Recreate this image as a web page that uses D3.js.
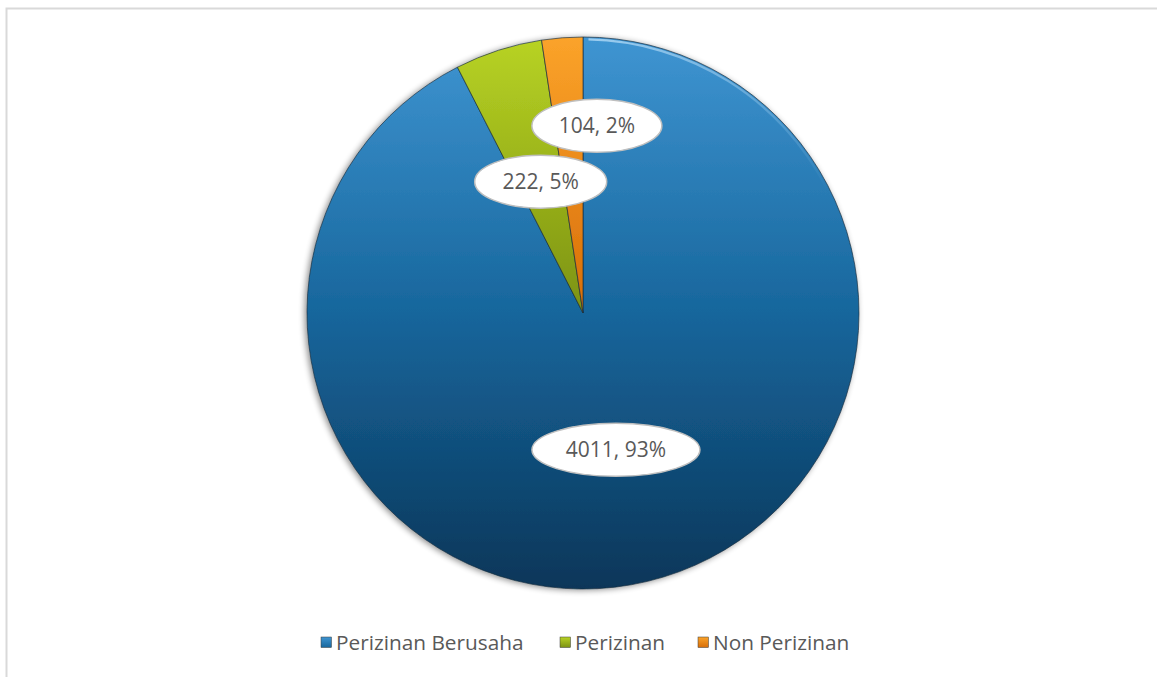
<!DOCTYPE html>
<html><head><meta charset="utf-8">
<script src="https://cdn.jsdelivr.net/npm/d3@7/dist/d3.min.js"></script>
<style>body{margin:0;background:#fff;}svg{display:block;}</style>
</head><body>
<svg id="chart" width="1157" height="677"></svg>
<script>
const categories = ["Perizinan Berusaha", "Perizinan", "Non Perizinan"];
const values = [4011, 222, 104];
const labels = ["4011, 93%", "222, 5%", "104, 2%"];

const W = 1157, H = 677;
const cx = 583, cy = 313, R = 276;
const svg = d3.select("#chart");
const defs = svg.append("defs");

const colorStops = [
  [["0%","#3f95d2"],["50%","#17669c"],["100%","#0a3659"]],
  [["0%","#b8d324"],["50%","#7c9212"],["100%","#4e5c06"]],
  [["0%","#fba32a"],["50%","#d86e08"],["100%","#a84a00"]]
];
colorStops.forEach((st,i)=>{
  const g = defs.append("linearGradient").attr("id","g"+i)
    .attr("gradientUnits","userSpaceOnUse")
    .attr("x1",0).attr("x2",0).attr("y1",-R).attr("y2",R);
  st.forEach(s=>g.append("stop").attr("offset",s[0]).attr("stop-color",s[1]));
  const lg = defs.append("linearGradient").attr("id","lg"+i)
    .attr("x1",0).attr("x2",0).attr("y1",0).attr("y2",1);
  lg.append("stop").attr("offset","0%").attr("stop-color",st[0][1]);
  lg.append("stop").attr("offset","100%").attr("stop-color",st[1][1]);
});
const hl = defs.append("linearGradient").attr("id","hl").attr("x1",0).attr("x2",1).attr("y1",0).attr("y2",1);
hl.append("stop").attr("offset","0%").attr("stop-color","#b5dcf7").attr("stop-opacity",0.8);
hl.append("stop").attr("offset","60%").attr("stop-color","#b5dcf7").attr("stop-opacity",0.3);
hl.append("stop").attr("offset","100%").attr("stop-color","#b5dcf7").attr("stop-opacity",0);

const f = defs.append("filter").attr("id","sh").attr("x","-10%").attr("y","-10%").attr("width","120%").attr("height","120%");
f.append("feGaussianBlur").attr("in","SourceAlpha").attr("stdDeviation",3).attr("result","b");
f.append("feOffset").attr("in","b").attr("dx",-2).attr("dy",1).attr("result","o");
f.append("feComponentTransfer").attr("in","o").attr("result","o2")
  .append("feFuncA").attr("type","linear").attr("slope",0.45);
const m = f.append("feMerge");
m.append("feMergeNode").attr("in","o2");
m.append("feMergeNode").attr("in","SourceGraphic");

// frame
svg.append("path").attr("d",`M6.5,${H} V8.5 H${W}`).attr("fill","none")
  .attr("stroke","#d9d9d9").attr("stroke-width",2);

const pie = d3.pie().sort(null).value(d=>d);
const arcs = pie(values);
const arc = d3.arc().innerRadius(0).outerRadius(R);

const g = svg.append("g").attr("transform",`translate(${cx},${cy})`);
g.append("g").attr("filter","url(#sh)").selectAll("path").data(arcs).join("path")
  .attr("d",arc)
  .attr("fill",(d,i)=>`url(#g${i})`)
  .attr("stroke","#1a2e3e").attr("stroke-width",0.9).attr("stroke-opacity",0.75);
// rim highlight
g.append("path").attr("d",d3.arc().innerRadius(R-3.5).outerRadius(R-1.2)({startAngle:0.02,endAngle:1.1}))
  .attr("fill","url(#hl)");

// labels
const labelR = [0.51, 0.5, 0.68];
const labelDx = [0, 0, 28];
const labelRx = [84, 66, 65];
const lg = g.append("g");
arcs.forEach((d,i)=>{
  const c = d3.arc().innerRadius(0).outerRadius(R*labelR[i]*2).centroid(d);
  const x = c[0] + labelDx[i], y = c[1];
  lg.append("ellipse").attr("cx",x).attr("cy",y).attr("rx",labelRx[i]).attr("ry",26.5)
    .attr("fill","#fff").attr("stroke","#bfbfbf").attr("stroke-width",1.5);
  lg.append("text").attr("x",x).attr("y",y).attr("text-anchor","middle").attr("dy","0.36em")
    .attr("font-family","'Open Sans', sans-serif").attr("font-size",21).attr("fill","#595959")
    .text(labels[i]);
});

// legend
const legX = [321, 560, 698];
const leg = svg.append("g");
categories.forEach((c,i)=>{
  leg.append("rect").attr("x",legX[i]).attr("y",637).attr("width",10.5).attr("height",10.5)
    .attr("fill",`url(#lg${i})`).attr("stroke","#3a3a3a").attr("stroke-width",0.5);
  leg.append("text").attr("x",legX[i]+15).attr("y",642.5).attr("dy","0.36em")
    .attr("font-family","'Open Sans', sans-serif").attr("font-size",20.8).attr("fill","#595959")
    .text(c);
});
</script>
</body></html>
